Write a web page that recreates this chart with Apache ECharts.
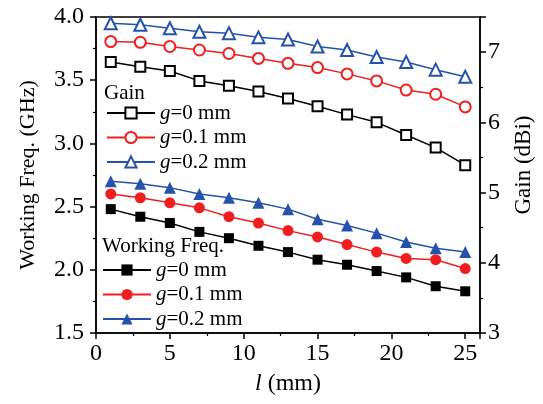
<!DOCTYPE html>
<html><head><meta charset="utf-8">
<script src="https://cdn.jsdelivr.net/npm/echarts@6/dist/echarts.min.js"></script>
<style>html,body{margin:0;padding:0;background:#fff}#c{width:543px;height:404px}</style>
</head><body><div id="c"></div>
<script>
const lengths = [1,3,5,7,9,11,13,15,17,19,21,23,25];
const gainG0 = [6.86,6.79,6.73,6.59,6.52,6.44,6.34,6.23,6.11,6.00,5.82,5.64,5.39];
const gainG01 = [7.15,7.14,7.08,7.03,6.98,6.91,6.84,6.78,6.69,6.59,6.46,6.40,6.22];
const gainG02 = [7.41,7.39,7.34,7.29,7.27,7.21,7.18,7.08,7.03,6.93,6.86,6.75,6.65];
const freqG0 = [2.48,2.42,2.37,2.30,2.25,2.19,2.14,2.08,2.04,1.99,1.94,1.87,1.83];
const freqG01 = [2.60,2.57,2.53,2.49,2.42,2.37,2.31,2.26,2.20,2.14,2.09,2.08,2.01];
const freqG02 = [2.70,2.68,2.65,2.60,2.57,2.53,2.48,2.40,2.35,2.29,2.22,2.17,2.14];
const seriesLabels = ['{i|g}=0 mm','{i|g}=0.1 mm','{i|g}=0.2 mm'];
const colors = ['#000000','#f01e1e','#2452ac'];

const FONT = '"Liberation Serif", "Times New Roman", serif';
const pair = a => lengths.map((x,i)=>[x,a[i]]);
const gainData = [gainG0, gainG01, gainG02];
const freqData = [freqG0, freqG01, freqG02];
const gainSym = ['emptyRect','emptyCircle','emptyTriangle'];
const freqSym = ['rect','circle','triangle'];
const symSize = [10,11,12];
const names = {};
const series = [];
gainData.forEach((d,k)=>{
  const n = 'gain'+k; names[n] = seriesLabels[k];
  series.push({name:n,type:'line',yAxisIndex:1,data:pair(d),symbol:gainSym[k],symbolSize:symSize[k],
    color:colors[k],lineStyle:{width:1.5,color:colors[k]},itemStyle:{borderWidth:1.2,color:colors[k]}});
});
freqData.forEach((d,k)=>{
  const n = 'freq'+k; names[n] = seriesLabels[k];
  series.push({name:n,type:'line',yAxisIndex:0,data:pair(d),symbol:freqSym[k],symbolSize:symSize[k],
    color:colors[k],lineStyle:{width:1.5,color:colors[k]},itemStyle:{color:colors[k]}});
});
const rich = {i:{fontStyle:'italic',fontFamily:FONT,fontSize:21,color:'#000'}};
const legendBase = {
  orient:'vertical', itemWidth:48, itemHeight:14, itemGap:3.5,
  formatter: n => names[n],
  textStyle:{fontFamily:FONT,fontSize:21,color:'#000',rich:rich}
};
const axisLabelStyle = {fontFamily:FONT,fontSize:24,color:'#000'};
const line = {show:true,lineStyle:{color:'#000',width:1.5}};
const chart = echarts.init(document.getElementById('c'),null,{renderer:'canvas'});
chart.setOption({
  animation:false,
  backgroundColor:'#fff',
  grid:{left:96,right:54,top:17,bottom:71,show:true,borderColor:'#000',borderWidth:1.5},
  title:[
    {text:'Gain',left:104,top:83,textStyle:{fontFamily:FONT,fontSize:21,fontWeight:'normal',color:'#000'},padding:0},
    {text:'Working Freq.',left:102,top:236,textStyle:{fontFamily:FONT,fontSize:21,fontWeight:'normal',color:'#000'},padding:0}
  ],
  legend:[
    Object.assign({data:['gain0','gain1','gain2'],left:106,top:102.5,padding:0},legendBase),
    Object.assign({data:['freq0','freq1','freq2'],left:102,top:259.5,padding:0},legendBase)
  ],
  xAxis:{type:'value',min:0,max:26,interval:5,
    name:'{i|l} (mm)',nameLocation:'middle',nameGap:39,
    nameTextStyle:{fontFamily:FONT,fontSize:24,color:'#000',rich:{i:{fontStyle:'italic',fontFamily:FONT,fontSize:24,color:'#000'}}},
    axisLine:line,axisTick:{show:true,length:6,lineStyle:{color:'#000',width:1.5}},
    minorTick:{show:true,splitNumber:2,length:3,lineStyle:{color:'#000',width:1.2}},
    axisLabel:Object.assign({margin:9,showMaxLabel:false},axisLabelStyle),
    splitLine:{show:false}},
  yAxis:[
    {type:'value',min:1.5,max:4.0,interval:0.5,position:'left',
      name:'Working Freq. (GHz)',nameLocation:'middle',nameGap:57,
      nameTextStyle:{fontFamily:FONT,fontSize:22,color:'#000'},
      axisLine:line,axisTick:{show:true,length:6,lineStyle:{color:'#000',width:1.5}},
      minorTick:{show:true,splitNumber:2,length:3,lineStyle:{color:'#000',width:1.2}},
      axisLabel:Object.assign({margin:12,formatter:v=>v.toFixed(1)},axisLabelStyle),
      splitLine:{show:false}},
    {type:'value',min:3,max:7.5,interval:1,position:'right',
      name:'Gain (dBi)',nameLocation:'middle',nameGap:32,
      nameTextStyle:{fontFamily:FONT,fontSize:23,color:'#000',padding:[0,0,0,20]},
      axisLine:line,axisTick:{show:true,length:6,lineStyle:{color:'#000',width:1.5}},
      minorTick:{show:true,splitNumber:2,length:3,lineStyle:{color:'#000',width:1.2}},
      axisLabel:Object.assign({margin:8,showMaxLabel:false,formatter:v=>Number.isInteger(v)?String(v):''},axisLabelStyle),
      splitLine:{show:false}}
  ],
  series:series
});
</script></body></html>
